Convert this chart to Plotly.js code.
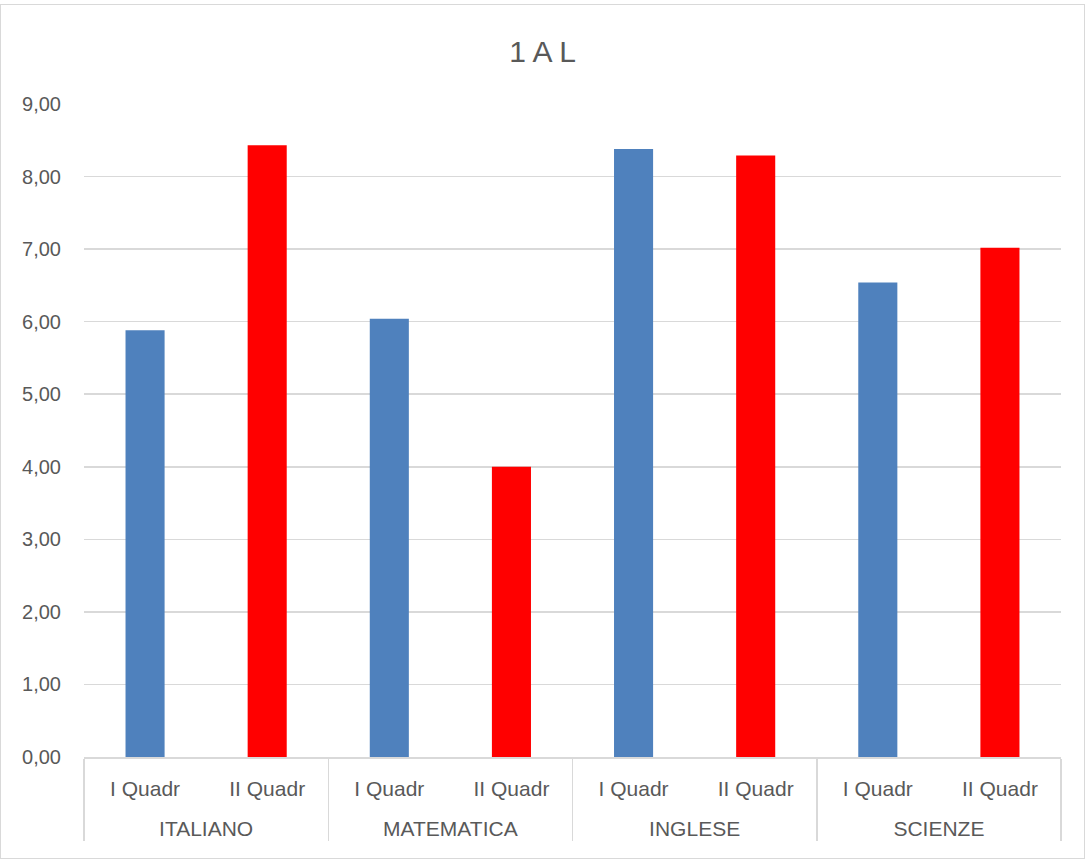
<!DOCTYPE html>
<html>
<head>
<meta charset="utf-8">
<script src="https://cdn.plot.ly/plotly-3.0.1.min.js"></script>
<style>
  html, body { margin: 0; padding: 0; background: #fff; }
  #wrap { position: absolute; left: 0; top: 4px; width: 1083px; height: 853px; border: 1px solid #d9d9d9; }
  #chart { width: 1083px; height: 853px; }
</style>
</head>
<body>
<div id="wrap"><div id="chart"></div></div>
<script>
const subjects = ["ITALIANO", "MATEMATICA", "INGLESE", "SCIENZE"];
const periods = ["I Quadr", "II Quadr"];
const primoQuadr = [5.88, 6.04, 8.38, 6.54];
const secondoQuadr = [8.43, 4.00, 8.29, 7.02];
const periodColors = ["#4f81bd", "#ff0000"];
const yTicks = [0, 1, 2, 3, 4, 5, 6, 7, 8, 9];

const groupLevel = [], subLevel = [], values = [], colors = [];
subjects.forEach((s, i) => {
  // leading line break only pushes the group label lower, as in the reference
  groupLevel.push("<br>" + s, "<br>" + s);
  subLevel.push(periods[0], periods[1]);
  values.push(primoQuadr[i], secondoQuadr[i]);
  colors.push(periodColors[0], periodColors[1]);
});

const font = "'Liberation Sans', Arial, sans-serif";

const data = [{
  type: "bar",
  x: [groupLevel, subLevel],
  y: values,
  marker: { color: colors, line: { width: 0 } },
  hoverinfo: "x+y"
}];

const layout = {
  width: 1083,
  height: 853,
  margin: { l: 83, r: 23, t: 99, b: 101 },
  paper_bgcolor: "#ffffff",
  plot_bgcolor: "#ffffff",
  separators: ",.",
  bargap: 0.68,
  showlegend: false,
  font: { family: font, color: "#595959", size: 20 },
  title: {
    text: "1 A L",
    font: { family: font, size: 30, color: "#595959" },
    x: 0.5, xanchor: "center",
    y: 0.945, yanchor: "middle", yref: "container"
  },
  xaxis: {
    type: "multicategory",
    showline: true,
    linecolor: "#d9d9d9",
    linewidth: 1.5,
    ticks: "",
    showgrid: false,
    showdividers: true,
    dividercolor: "#d9d9d9",
    dividerwidth: 1.5,
    ticklabelstandoff: 12,
    tickfont: { family: font, size: 21, color: "#595959" }
  },
  yaxis: {
    range: [0, 9],
    tickvals: yTicks,
    tickformat: ".2f",
    showgrid: true,
    gridcolor: "#d9d9d9",
    gridwidth: 1.5,
    zeroline: false,
    showline: false,
    ticks: "",
    ticklabelstandoff: 22,
    tickfont: { family: font, size: 20, color: "#595959" }
  }
};

Plotly.newPlot("chart", data, layout, { displayModeBar: false, staticPlot: true });
</script>
</body>
</html>
